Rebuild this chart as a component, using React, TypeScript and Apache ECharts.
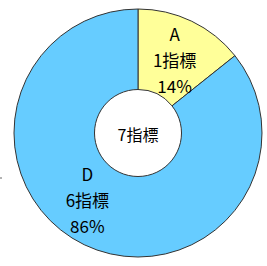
import React, { useEffect, useRef } from "react";
import * as echarts from "echarts";

const categories = ["A", "D"];
const counts = [1, 6];
const percents = ["14%", "86%"];
const colors = ["#FFFF99", "#66CCFF"];
const totalLabel = "7指標";

export default function App() {
  const ref = useRef<HTMLDivElement>(null);
  useEffect(() => {
    document.body.style.margin = "0";
    const chart = echarts.init(ref.current!, null, { renderer: "svg" });
    const font = '"Noto Sans CJK JP", sans-serif';
    chart.setOption({
      animation: false,
      backgroundColor: "#ffffff",
      series: [
        {
          type: "pie",
          center: [138, 133],
          radius: [43.5, 124],
          startAngle: 90,
          clockwise: true,
          silent: true,
          itemStyle: { borderColor: "#333333", borderWidth: 1 },
          label: {
            position: "inside",
            color: "#000000",
            fontFamily: font,
            fontSize: 17,
            fontWeight: "normal",
            lineHeight: 26,
            formatter: (p: any) =>
              `${categories[p.dataIndex]}\n${counts[p.dataIndex]}指標\n${percents[p.dataIndex]}`,
          },
          labelLine: { show: false },
          data: categories.map((c, i) => ({
            name: c,
            value: counts[i],
            itemStyle: { color: colors[i] },
            label: i === 1 ? { offset: [-13, -12] } : { offset: [-1, 5] },
          })),
        },
      ],
      graphic: [
        {
          type: "text",
          x: 138,
          y: 134,
          style: {
            text: totalLabel,
            fontFamily: font,
            fontSize: 16,
            fill: "#000000",
            align: "center",
            verticalAlign: "middle",
          },
        },
        {
          type: "line",
          shape: { x1: 0, y1: 178, x2: 2, y2: 178 },
          style: { stroke: "#666666", lineWidth: 1 },
        },
      ],
    });
    return () => chart.dispose();
  }, []);
  return <div ref={ref} style={{ width: 267, height: 266 }} />;
}
